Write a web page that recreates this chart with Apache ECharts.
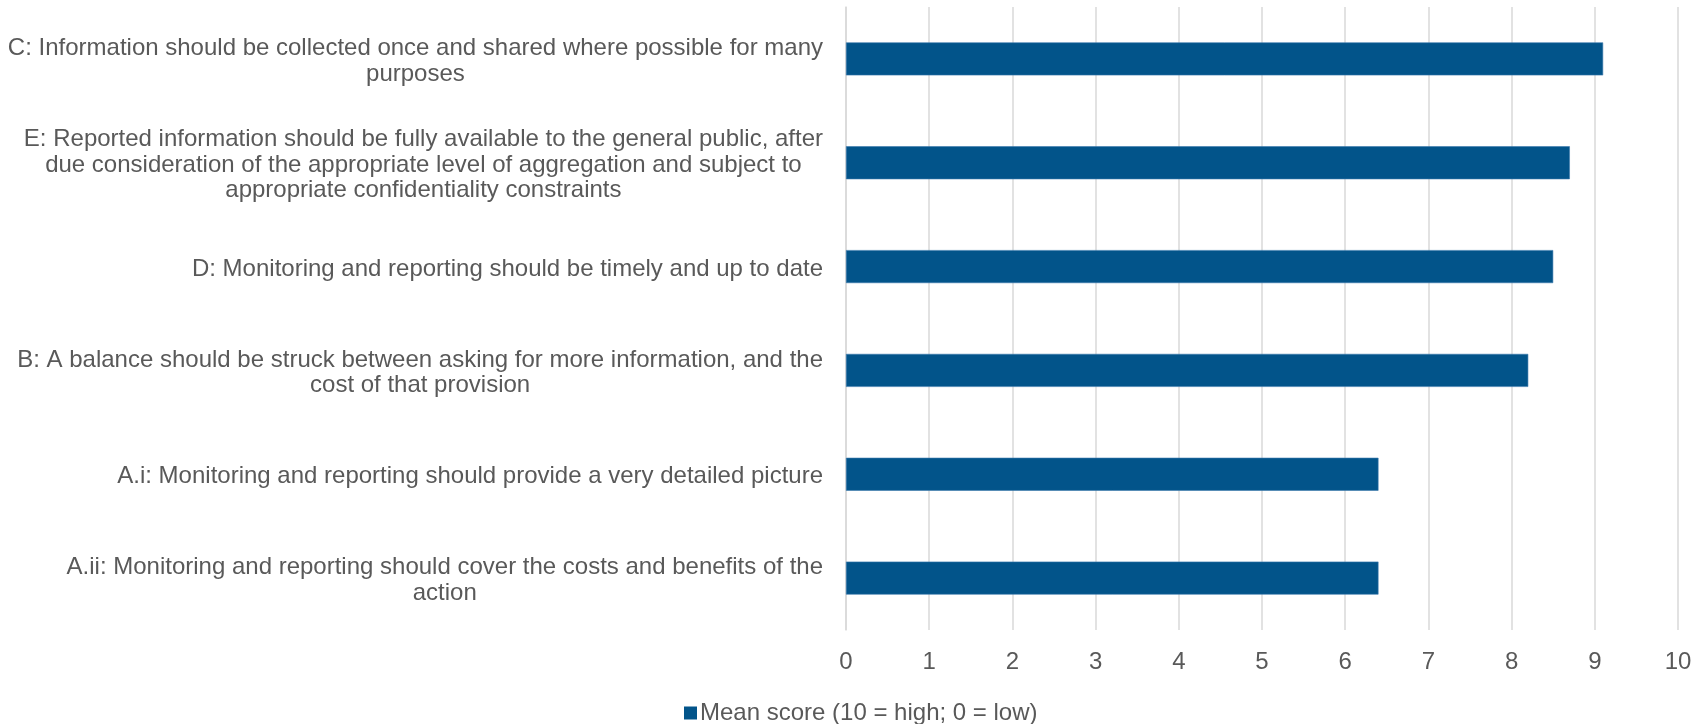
<!DOCTYPE html>
<html>
<head>
<meta charset="utf-8">
<script src="https://cdn.jsdelivr.net/npm/echarts@6/dist/echarts.min.js"></script>
<style>
html,body{margin:0;padding:0;background:#fff;}
#chart{width:1705px;height:724px;}
</style>
</head>
<body>
<div id="chart"></div>
<script>
const categories = [
  "C: Information should be collected once and shared where possible for many\npurposes",
  "E: Reported information should be fully available to the general public, after\ndue consideration of the appropriate level of aggregation and subject to\nappropriate confidentiality constraints",
  "D: Monitoring and reporting should be timely and up to date",
  "B: A balance should be struck between asking for more information, and the\ncost of that provision",
  "A.i: Monitoring and reporting should provide a very detailed picture",
  "A.ii: Monitoring and reporting should cover the costs and benefits of the\naction"
];
const seriesName = "Mean score (10 = high; 0 = low)";
const meanScores = [9.1, 8.7, 8.5, 8.2, 6.4, 6.4];

const FONT = "'Liberation Sans', Arial, sans-serif";
const TXT = '#595959';

const chart = echarts.init(document.getElementById('chart'), null, {renderer: 'canvas'});
chart.setOption({
  animation: false,
  backgroundColor: '#ffffff',
  grid: {left: 846, right: 27, top: 7, bottom: 94, containLabel: false},
  legend: {
    data: [seriesName],
    left: 679,
    top: 696,
    itemWidth: 13,
    itemHeight: 13,
    itemGap: 5,
    icon: 'rect',
    itemStyle: {borderWidth: 0},
    textStyle: {color: TXT, fontSize: 24, fontFamily: FONT, padding: [0,0,0,-2]}
  },
  xAxis: {
    type: 'value',
    min: 0,
    max: 10,
    interval: 1,
    axisLine: {show: false},
    axisTick: {show: false},
    splitLine: {show: true, lineStyle: {color: '#d9d9d9', width: 1.5}},
    axisLabel: {color: TXT, fontSize: 24, fontFamily: FONT, margin: 20}
  },
  yAxis: {
    type: 'category',
    inverse: true,
    data: categories,
    axisLine: {show: true, lineStyle: {color: '#d9d9d9', width: 1.5}},
    axisTick: {show: false},
    axisLabel: {
      margin: 23,
      align: 'right',
      padding: [5, 0, 0, 0],
      formatter: function (v) {
        return v.split('\n').map(function (l) { return '{a|' + l + '}'; }).join('\n');
      },
      rich: {
        a: {color: TXT, fontSize: 24, fontFamily: FONT, lineHeight: 25.5, align: 'center'}
      }
    }
  },
  series: [{
    name: seriesName,
    type: 'bar',
    data: meanScores,
    barWidth: 33,
    itemStyle: {color: '#02548a', borderColor: '#3b79ad', borderWidth: 0.6}
  }]
});
</script>
</body>
</html>
